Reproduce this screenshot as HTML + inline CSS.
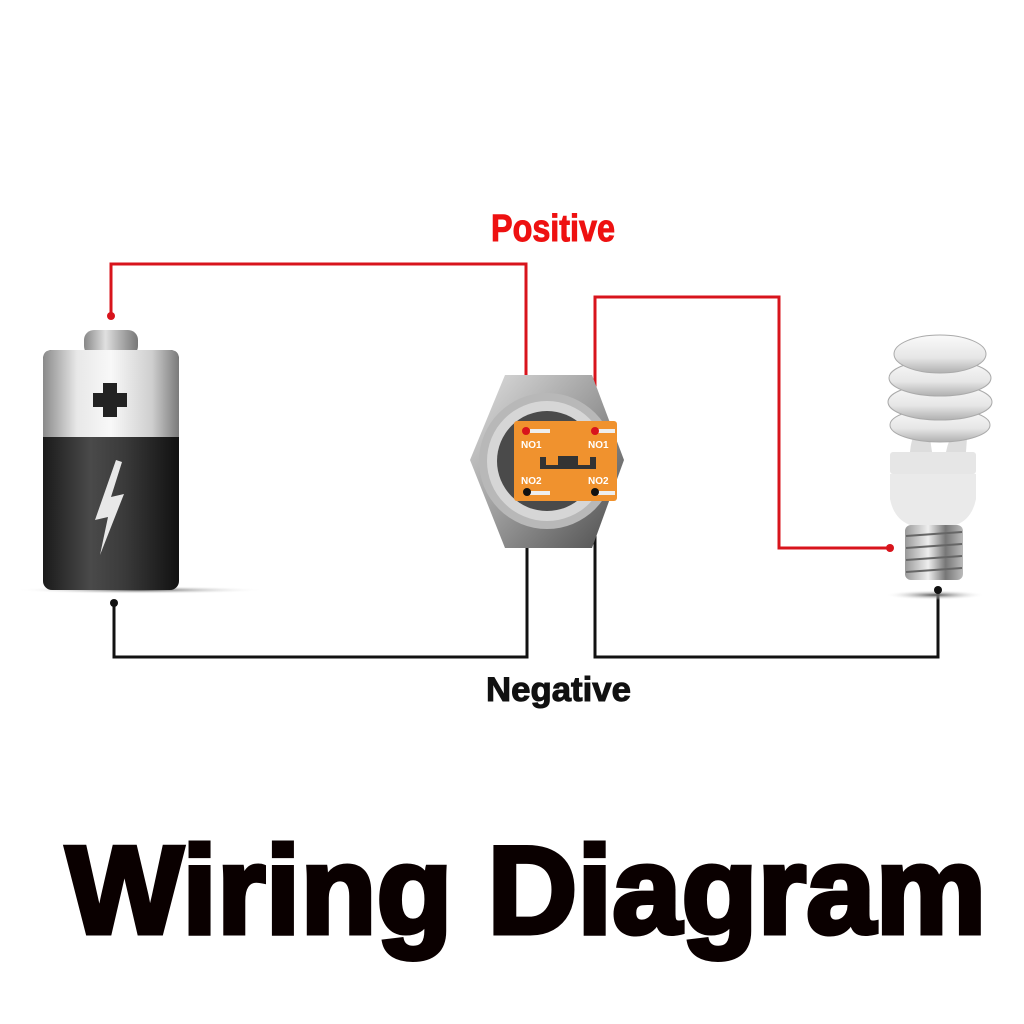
<!DOCTYPE html>
<html><head><meta charset="utf-8"><style>
html,body{margin:0;padding:0;background:#fff;}
svg{display:block;}
</style></head><body>
<svg width="1024" height="1024" viewBox="0 0 1024 1024" xmlns="http://www.w3.org/2000/svg">
<defs>
<linearGradient id="silver" x1="0" x2="1" y1="0" y2="0">
<stop offset="0" stop-color="#8a8a8a"/><stop offset="0.25" stop-color="#e8e8e8"/><stop offset="0.5" stop-color="#f8f8f8"/><stop offset="0.8" stop-color="#cfcfcf"/><stop offset="1" stop-color="#7a7a7a"/>
</linearGradient>
<linearGradient id="black" x1="0" x2="1" y1="0" y2="0">
<stop offset="0" stop-color="#1a1a1a"/><stop offset="0.35" stop-color="#4a4a4a"/><stop offset="0.6" stop-color="#3a3a3a"/><stop offset="1" stop-color="#111"/>
</linearGradient>
<linearGradient id="cap" x1="0" x2="1">
<stop offset="0" stop-color="#888"/><stop offset="0.4" stop-color="#e0e0e0"/><stop offset="0.6" stop-color="#bbb"/><stop offset="1" stop-color="#777"/>
</linearGradient>
<linearGradient id="metal" x1="0" x2="1" y1="0" y2="1">
<stop offset="0" stop-color="#e0e0e0"/><stop offset="0.5" stop-color="#9a9a9a"/><stop offset="1" stop-color="#4a4a4a"/>
</linearGradient>
<linearGradient id="tube" x1="0" x2="0" y1="0" y2="1">
<stop offset="0" stop-color="#fafafa"/><stop offset="0.6" stop-color="#e6e6e6"/><stop offset="1" stop-color="#b0b0b0"/>
</linearGradient>
<linearGradient id="screw" x1="0" x2="1">
<stop offset="0" stop-color="#999"/><stop offset="0.4" stop-color="#eee"/><stop offset="0.7" stop-color="#777"/><stop offset="1" stop-color="#bbb"/>
</linearGradient>
<radialGradient id="shadow" cx="0.5" cy="0.5" r="0.5">
<stop offset="0" stop-color="#555"/><stop offset="1" stop-color="#fff" stop-opacity="0"/>
</radialGradient>
</defs>

<g fill="none" stroke-width="3">
<polyline points="111,316 111,264 526,264 526,425" stroke="#d8141c"/>
<polyline points="595,425 595,297 779,297 779,548 890,548" stroke="#d8141c"/>
<polyline points="114,603 114,657 527,657 527,487" stroke="#111"/>
<polyline points="595,487 595,657 938,657 938,590" stroke="#111"/>
</g>

<!-- battery -->
<ellipse cx="140" cy="590" rx="125" ry="4" fill="url(#shadow)"/>
<rect x="84" y="330" width="54" height="26" rx="10" fill="url(#cap)"/>
<rect x="43" y="350" width="136" height="240" rx="9" fill="url(#black)"/>
<path d="M52,350 H170 Q179,350 179,359 V437 H43 V359 Q43,350 52,350Z" fill="url(#silver)"/>
<path d="M103,383 h14 v10 h10 v14 h-10 v10 h-14 v-10 h-10 v-14 h10z" fill="#222"/>
<path d="M116,460 L95,520 L108,517 L100,555 L124,494 L111,497 L122,462z" fill="#e8e8e8"/>

<!-- switch -->
<polygon points="505,375 592,375 624,460 592,548 505,548 470,460" fill="url(#metal)"/>
<circle cx="547" cy="461" r="68" fill="#b8b8b8"/>
<circle cx="547" cy="461" r="60" fill="#d6d6d6"/>
<circle cx="547" cy="461" r="50" fill="#4a4a4a"/>
<rect x="514" y="421" width="103" height="80" rx="3" fill="#f0922e"/>
<g fill="#fff" font-family="Liberation Sans, sans-serif" font-size="10" font-weight="bold">
<text x="521" y="448">NO1</text><text x="588" y="448">NO1</text>
<text x="521" y="484">NO2</text><text x="588" y="484">NO2</text>
</g>
<rect x="530" y="429" width="20" height="4" fill="#eee"/><rect x="597" y="429" width="18" height="4" fill="#eee"/>
<rect x="530" y="491" width="20" height="4" fill="#eee"/><rect x="597" y="491" width="18" height="4" fill="#eee"/>
<path d="M540,457 h6 v8 h12 v-9 h20 v9 h12 v-8 h6 v12 h-56z" fill="#333"/>
<circle cx="526" cy="431" r="4" fill="#d8141c"/><circle cx="595" cy="431" r="4" fill="#d8141c"/>
<circle cx="527" cy="492" r="4" fill="#111"/><circle cx="595" cy="492" r="4" fill="#111"/>

<!-- bulb -->
<ellipse cx="935" cy="595" rx="50" ry="5" fill="url(#shadow)"/>
<path d="M910,452 q2,-25 18,-28 l4,28z M946,452 q5,-25 22,-28 l-2,28z" fill="#ddd"/>
<g fill="url(#tube)" stroke="#aaa" stroke-width="1">
<ellipse cx="940" cy="425" rx="50" ry="17"/>
<ellipse cx="940" cy="402" rx="52" ry="18"/>
<ellipse cx="940" cy="378" rx="51" ry="18"/>
<ellipse cx="940" cy="354" rx="46" ry="19"/>
</g>
<rect x="890" y="452" width="86" height="22" rx="3" fill="#e6e6e6"/>
<path d="M890,474 h86 v25 q-4,20 -20,26 h-46 q-16,-6 -20,-26z" fill="#eaeaea"/>
<rect x="905" y="525" width="58" height="55" rx="6" fill="url(#screw)"/>
<g stroke="#666" stroke-width="2"><line x1="906" y1="536" x2="962" y2="532"/><line x1="906" y1="548" x2="962" y2="544"/><line x1="906" y1="560" x2="962" y2="556"/><line x1="906" y1="572" x2="962" y2="568"/></g>
<circle cx="890" cy="548" r="4" fill="#d8141c"/>
<circle cx="938" cy="590" r="4" fill="#111"/>
<circle cx="111" cy="316" r="4" fill="#d8141c"/>
<circle cx="114" cy="603" r="4" fill="#111"/>

<text x="491" y="241" font-family="Liberation Sans, sans-serif" font-weight="bold" font-size="38" fill="#ee1111" stroke="#ee1111" stroke-width="1" textLength="124" lengthAdjust="spacingAndGlyphs">Positive</text>
<text x="486" y="701" font-family="Liberation Sans, sans-serif" font-weight="bold" font-size="34" fill="#111" stroke="#111" stroke-width="1" textLength="145" lengthAdjust="spacingAndGlyphs">Negative</text>
<text x="66" y="933" font-family="Liberation Sans, sans-serif" font-weight="bold" font-size="124" fill="#0a0000" stroke="#0a0000" stroke-width="5" stroke-linejoin="miter" textLength="920" lengthAdjust="spacing">Wiring Diagram</text>
</svg>
</body></html>
